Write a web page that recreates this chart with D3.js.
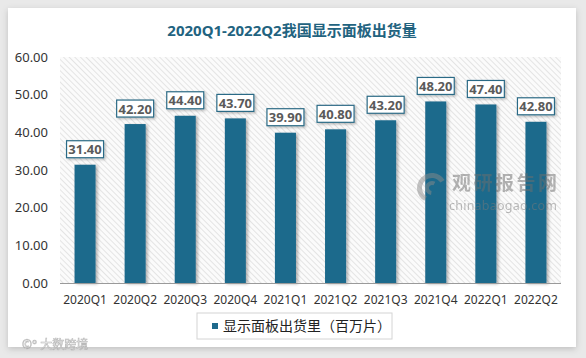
<!DOCTYPE html>
<html><head><meta charset="utf-8">
<script src="https://cdn.jsdelivr.net/npm/d3@7/dist/d3.min.js"></script>
<style>
html,body{margin:0;padding:0;background:#e9e9e9;}
svg{display:block;}
</style></head>
<body>
<svg id="chart" width="586" height="358"></svg>
<script>
const categories = ["2020Q1","2020Q2","2020Q3","2020Q4","2021Q1","2021Q2","2021Q3","2021Q4","2022Q1","2022Q2"];
const values = [31.4,42.2,44.4,43.7,39.9,40.8,43.2,48.2,47.4,42.8];
const yTicks = [0,10,20,30,40,50,60];
const title = "2020Q1-2022Q2我国显示面板出货量";
const seriesName = "显示面板出货里（百万片）";

const FONT = "'Noto Sans','Noto Sans CJK SC',sans-serif";
const svg = d3.select("#chart");
const defs = svg.append("defs");

const f = defs.append("filter").attr("id","cardShadow").attr("x","-5%").attr("y","-5%").attr("width","110%").attr("height","115%");
f.append("feDropShadow").attr("dx",0).attr("dy",2).attr("stdDeviation",3).attr("flood-color","#000").attr("flood-opacity",0.18);
const fb = defs.append("filter").attr("id","barShadow").attr("x","-30%").attr("y","-10%").attr("width","170%").attr("height","130%");
fb.append("feDropShadow").attr("dx",2).attr("dy",1).attr("stdDeviation",1.5).attr("flood-color","#000").attr("flood-opacity",0.3);
const fl = defs.append("filter").attr("id","lblShadow").attr("x","-20%").attr("y","-20%").attr("width","150%").attr("height","160%");
fl.append("feDropShadow").attr("dx",1.5).attr("dy",1.5).attr("stdDeviation",1.2).attr("flood-color","#000").attr("flood-opacity",0.25);

const pat = defs.append("pattern").attr("id","hatch").attr("patternUnits","userSpaceOnUse")
  .attr("width",4).attr("height",4).attr("patternTransform","rotate(-45)");
pat.append("rect").attr("width",4).attr("height",4).attr("fill","#fbfbfb");
pat.append("line").attr("x1",0).attr("y1",0).attr("x2",0).attr("y2",4).attr("stroke","#d2d2d2").attr("stroke-width",1.1);

svg.append("rect").attr("x",8).attr("y",8).attr("width",568).attr("height",339)
  .attr("fill","#fff").attr("filter","url(#cardShadow)");

svg.append("text").attr("x",292).attr("y",36).attr("text-anchor","middle")
  .attr("font-family",FONT).attr("font-size",15).attr("font-weight","bold")
  .attr("fill","#22637f").text(title);

const x = d3.scaleBand().domain(categories).range([60,561]).paddingInner(0.58).paddingOuter(0.29);
const y = d3.scaleLinear().domain([0,60]).range([283,57]);

svg.append("rect").attr("x",60).attr("y",y(60)).attr("width",501).attr("height",y(0)-y(60)).attr("fill","url(#hatch)");

svg.append("g").selectAll("rect").data(values).join("rect")
  .attr("x",(d,i)=>x(categories[i])).attr("y",d=>y(d))
  .attr("width",x.bandwidth()).attr("height",d=>y(0)-y(d))
  .attr("fill","#1f6a8c").attr("filter","url(#barShadow)");

// watermark
const wm = svg.append("g").attr("opacity",0.5);
wm.append("path").attr("d", d3.arc()({innerRadius:10,outerRadius:15,startAngle:-2.6,endAngle:1.0}))
  .attr("transform","translate(432,188)").attr("fill","#8a8a8a");
wm.append("path").attr("d", d3.arc()({innerRadius:3,outerRadius:7,startAngle:-3.0,endAngle:0.5}))
  .attr("transform","translate(432,188)").attr("fill","#8a8a8a");
wm.append("text").attr("x",452).attr("y",190).attr("font-family",FONT).attr("font-size",19).attr("font-weight","bold")
  .attr("fill","#6e6e6e").attr("textLength",105).text("观研报告网");
wm.append("text").attr("x",449).attr("y",210).attr("font-family",FONT).attr("font-size",12.5)
  .attr("fill","#7a7a7a").attr("textLength",108).text("chinabaogao.com");

svg.append("line").attr("x1",60).attr("x2",561).attr("y1",y(0)+0.5).attr("y2",y(0)+0.5)
  .attr("stroke","#9a9a9a").attr("stroke-width",1);

const yAxis = svg.append("g").attr("transform","translate(60,0)")
  .call(d3.axisLeft(y).tickValues(yTicks).tickFormat(d3.format(".2f")).tickSize(0).tickPadding(12));
yAxis.select(".domain").remove();
yAxis.selectAll("text").attr("font-family",FONT).attr("font-size",13).attr("fill","#333");

const xAxis = svg.append("g").attr("transform",`translate(0,${y(0)})`)
  .call(d3.axisBottom(x).tickSize(0).tickPadding(12));
xAxis.select(".domain").remove();
xAxis.selectAll("text").attr("font-family",FONT).attr("font-size",12).attr("fill","#333");

const lg = svg.append("g").selectAll("g").data(values).join("g")
  .attr("transform",(d,i)=>`translate(${x(categories[i])+x.bandwidth()/2},${y(d)-7})`);
lg.append("rect").attr("x",-18.5).attr("y",-17).attr("width",37).attr("height",17)
  .attr("fill","#fff").attr("stroke","#2c6b86").attr("stroke-width",1.2).attr("filter","url(#lblShadow)");
lg.append("text").attr("x",0).attr("y",-3.5).attr("text-anchor","middle")
  .attr("font-family",FONT).attr("font-size",13).attr("font-weight","bold").attr("fill","#5a5a5a")
  .text(d=>d3.format(".2f")(d));

svg.append("rect").attr("x",197).attr("y",313).attr("width",195).attr("height",26)
  .attr("fill","#fff").attr("stroke","#d4d4d4").attr("stroke-width",1);
svg.append("rect").attr("x",212).attr("y",323).attr("width",6).attr("height",6).attr("fill","#1f6a8c");
svg.append("text").attr("x",223).attr("y",331).attr("font-family",FONT).attr("font-size",14)
  .attr("fill","#222").text(seriesName);

svg.append("text").attr("x",22).attr("y",349).attr("font-family",FONT).attr("font-size",12)
  .attr("fill","#fff").attr("stroke","#aaa").attr("stroke-width",0.6).attr("opacity",0.8).text("©° 大数跨境");
</script>
</body></html>
